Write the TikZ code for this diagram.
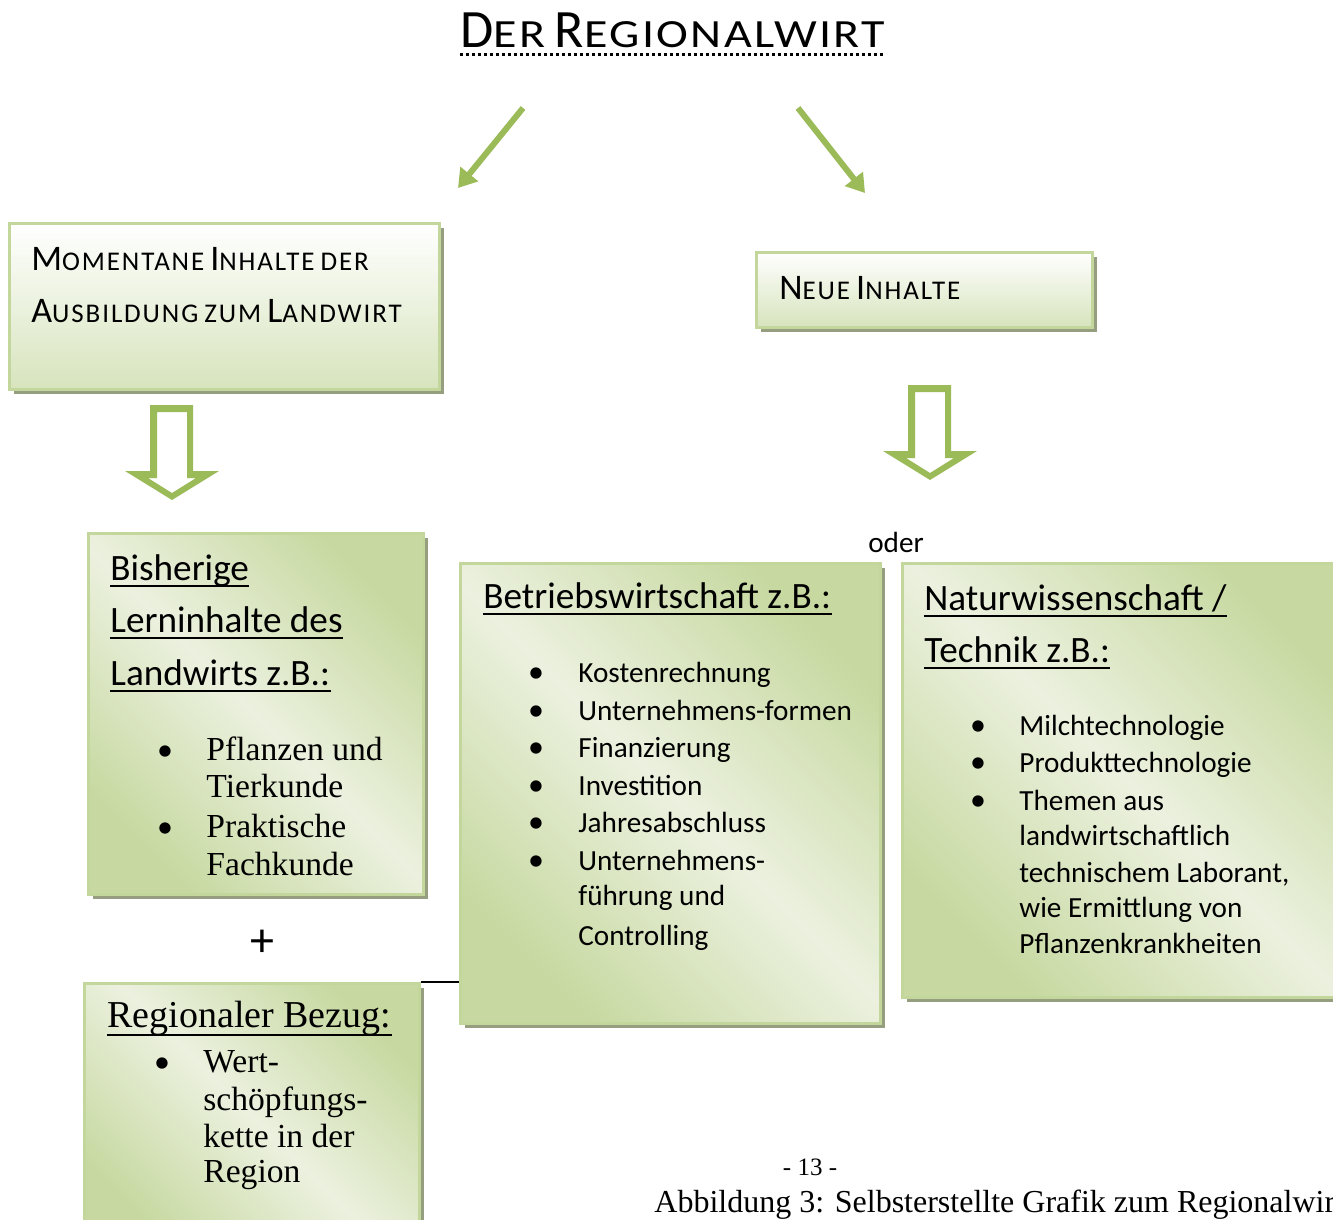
\documentclass[tikz,border=0pt]{standalone}
\usepackage{fontspec}
\setmainfont{Carlito}
\newfontfamily\cambria{Liberation Serif}
\usepackage{tikz}
\usetikzlibrary{
  arrows.meta,
  positioning,
  fit,
  shadows
}
\usepackage{xcolor}
\definecolor{arrowGreen}{rgb}{0.608,0.733,0.349}
\definecolor{borderGreen}{rgb}{0.765,0.839,0.608}
\definecolor{paleGreen}{rgb}{0.843,0.894,0.741}
\definecolor{midGreen}{rgb}{0.78,0.85,0.63}
\definecolor{lightGreen}{rgb}{0.925,0.945,0.875}
\definecolor{shadowGray}{rgb}{0.59,0.62,0.5}
% Word-like small caps: first letter big, rest small and spaced out
\newcommand{\fakesc}[5][LetterSpace=7]{{\fontsize{#2}{#2}\selectfont #4}%
  {\fontsize{#3}{#3}\selectfont\addfontfeatures{#1}#5}}
\tikzset{
  panel/.style={
    draw=borderGreen,
    line width=1.5pt,
    inner sep=0pt,
    drop shadow={shadow xshift=2.5pt, shadow yshift=-2.5pt, fill=shadowGray, opacity=1}
  },
  topfade/.style={panel, top color=white, bottom color=paleGreen},
  diagfade/.style={panel, top color=midGreen, bottom color=midGreen,
    middle color=lightGreen, shading angle=-45},
  greenArrow/.style={draw=arrowGreen, line width=3pt, -{Triangle[length=9pt,width=11pt]}},
  hollowArrow/.style={fill=arrowGreen, even odd rule},
  dotline/.style={line width=1.5pt, dash pattern=on 1.5pt off 1.5pt},
  underl/.style={line width=1.2pt},
  txt/.style={anchor=base west, inner sep=0pt},
  dot/.style={anchor=base, inner sep=0pt, font=\fontsize{16pt}{16pt}\selectfont},
  headfont/.style={font=\fontsize{18.6pt}{22pt}\selectfont},
  itemfont/.style={font=\fontsize{14.6pt}{17pt}\selectfont},
  seriffont/.style={font=\cambria\fontsize{16.8pt}{19pt}\selectfont}
}

\begin{document}
\begin{tikzpicture}[x=0.5pt, y=-0.5pt]
  \useasboundingbox (0,0) rectangle (1333,1220);
  \clip (0,0) rectangle (1333,1220);

  % title
  \node[anchor=base, inner sep=0pt, font=\fontsize{20pt}{20pt}\selectfont] (title) at (673,48)
    {\fakesc[FakeStretch=1.2,LetterSpace=6]{27pt}{20pt}{D}{ER}
     \fakesc[FakeStretch=1.2,LetterSpace=6]{27pt}{20pt}{R}{EGIONALWIRT}};
  \draw[dotline] ([yshift=-3.5pt]title.base west) -- ([yshift=-3.5pt]title.base east);

  \coordinate (leftFrom) at (523,108);
  \coordinate (leftTo) at (458,188);
  \coordinate (rightFrom) at (798,108);
  \coordinate (rightTo) at (865,193);
  \draw[greenArrow] (leftFrom) -- (leftTo);
  \draw[greenArrow] (rightFrom) -- (rightTo);

  % upper boxes
  \node[topfade, fit={(9,223) (439,389)}] (momentan) {};
  \node[txt, font=\fontsize{13.5pt}{13.5pt}\selectfont] (momentan1) at (31,270)
    {\fakesc{18pt}{13.5pt}{M}{OMENTANE} \fakesc{18pt}{13.5pt}{I}{NHALTE} \fakesc{13.5pt}{13.5pt}{}{DER}};
  \node[txt, font=\fontsize{13.5pt}{13.5pt}\selectfont] (momentan2) at (31,322)
    {\fakesc{18pt}{13.5pt}{A}{USBILDUNG} \fakesc{13.5pt}{13.5pt}{}{ZUM} \fakesc{18pt}{13.5pt}{L}{ANDWIRT}};

  \node[topfade, fit={(756,252) (1092,327)}] (neu) {};
  \node[txt, font=\fontsize{13.5pt}{13.5pt}\selectfont] (neu1) at (779,299)
    {\fakesc{18pt}{13.5pt}{N}{EUE} \fakesc{18pt}{13.5pt}{I}{NHALTE}};

  % hollow arrows
  \fill[hollowArrow] (150,405) -- (193,405) -- (193,471) -- (219,471) -- (172,500)
    -- (125,471) -- (150,471) -- cycle
    (157,412) -- (187,412) -- (187,478) -- (196,478) -- (172,493) -- (148,478)
    -- (157,478) -- cycle;
  \fill[hollowArrow] (908,385) -- (951,385) -- (951,451) -- (977,451) -- (930,480)
    -- (883,451) -- (908,451) -- cycle
    (915,392) -- (945,392) -- (945,458) -- (954,458) -- (930,473) -- (906,458)
    -- (915,458) -- cycle;

  \node[anchor=base, inner sep=0pt, itemfont] (oder) at (896,552) {oder};

  % Bisherige Lerninhalte
  \node[diagfade, fit={(88,533) (423,894)}] (bisher) {};
  \node[txt, headfont] (bisher1) at (110,580) {Bisherige};
  \node[txt, headfont] (bisher2) at (110,632) {Lerninhalte des};
  \node[txt, headfont] (bisher3) at (110,685) {Landwirts z.B.:};
  \foreach \y/\t [count=\i] in {760/Pflanzen und, 797/Tierkunde, 837/Praktische, 875/Fachkunde}
    \node[txt, seriffont] (bisherItem\i) at (206,\y) {\t};
  \foreach \y [count=\i] in {760, 837}
    \node[dot] (bisherDot\i) at (165,\y) {\textbullet};

  % Betriebswirtschaft
  \node[diagfade, fit={(460,563) (880,1023)}] (bwl) {};
  \node[txt, headfont] (bwl1) at (483,608) {Betriebswirtschaft z.B.:};
  \foreach \y/\t [count=\i] in {682/Kostenrechnung, 720/Unternehmens-formen,
      757/Finanzierung, 795/Investition, 832/Jahresabschluss, 870/Unternehmens-,
      905/führung und, 945/Controlling}
    \node[txt, itemfont] (bwlItem\i) at (578,\y) {\t};
  \foreach \y [count=\i] in {682, 720, 757, 795, 832, 870}
    \node[dot] (bwlDot\i) at (536,\y) {\textbullet};

  % Naturwissenschaft / Technik
  \node[diagfade, fit={(902,563) (1350,997)}] (natur) {};
  \node[txt, headfont] (natur1) at (924,610) {Naturwissenschaft /};
  \node[txt, headfont] (natur2) at (924,662) {Technik z.B.:};
  \foreach \y/\t [count=\i] in {735/Milchtechnologie, 772/Produkttechnologie,
      810/Themen aus, 845/landwirtschaftlich, 882/{technischem Laborant,},
      917/wie Ermittlung von, 953/Pflanzenkrankheiten}
    \node[txt, itemfont] (naturItem\i) at (1019,\y) {\t};
  \foreach \y [count=\i] in {735, 772, 810}
    \node[dot] (naturDot\i) at (978,\y) {\textbullet};

  \node[inner sep=0pt, font=\fontsize{24pt}{24pt}\selectfont] (plus) at (262,943) {+};

  % Regionaler Bezug
  \node[diagfade, fit={(84,983) (419,1250)}] (regional) {};
  \node[txt, font=\cambria\fontsize{19pt}{22pt}\selectfont] (regional1) at (107,1027)
    {Regionaler Bezug:};
  \foreach \y/\t [count=\i] in {1072/Wert-, 1110/schöpfungs-, 1147/kette in der, 1182/Region}
    \node[txt, seriffont] (regionalItem\i) at (203,\y) {\t};
  \node[dot] (regionalDot1) at (162,1072) {\textbullet};

  % underlines of the headings
  \foreach \n in {bisher1, bisher2, bisher3, bwl1, natur1, natur2}
    \draw[underl] ([yshift=-3pt]\n.base west) -- ([yshift=-3pt]\n.base east);
  \draw[underl] ([yshift=-4pt]regional1.base west) -- ([yshift=-4pt]regional1.base east);

  \draw[line width=1pt] (regional.north east) -- (regional.north east -| bwl.west);

  % page footer
  \node[anchor=base, inner sep=0pt, font=\cambria\fontsize{12.5pt}{14pt}\selectfont] (page) at (810,1175) {- 13 -};
  \node[txt, font=\cambria\fontsize{16pt}{18pt}\selectfont] (caption) at (654,1212)
    {Abbildung 3: Selbsterstellte Grafik zum Regionalwirt};
\end{tikzpicture}
\end{document}
